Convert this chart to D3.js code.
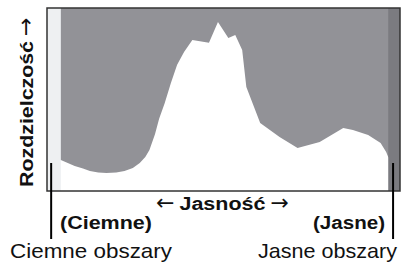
<!DOCTYPE html>
<html>
<head>
<meta charset="utf-8">
<script src="https://cdn.jsdelivr.net/npm/d3@7"></script>
<style>
  body { margin: 0; background: #fff; }
  text { font-family: "Liberation Sans", Arial, sans-serif; fill: #111; }
  .arrow { font-family: "DejaVu Sans", sans-serif; font-weight: normal; font-size: 22px; }
</style>
</head>
<body>
<svg id="chartSVG" width="404" height="263"></svg>
<script>
// brightness (0-255) and pixel count (0-100)
const brightness = [0, 10, 15, 20, 26, 31, 37, 43, 50, 56, 62, 67, 71, 74, 78, 81, 85, 89.5, 94, 99, 105, 117, 123.5, 131, 136, 141, 144, 154, 168, 181, 197, 214, 221, 232, 241, 245, 246.5, 255];
const counts     = [18, 17, 15.3, 13.7, 12.3, 10.9, 10.1, 9.8, 10.1, 10.9, 12.6, 15.3, 18.6, 22.4, 31, 39.5, 48, 59, 69, 76, 82.5, 81, 92.3, 83.6, 85.2, 77, 56.8, 37.2, 29.5, 23.5, 26.8, 34.4, 33.3, 30.6, 26.2, 21.3, 18.6, 14];

const yLabel = "Rozdzielczość";
const xLabel = "Jasność";
const darkLabel = "(Ciemne)";
const lightLabel = "(Jasne)";
const darkNote = "Ciemne obszary";
const lightNote = "Jasne obszary";

const plotLeft = 47, plotRight = 400, plotTop = 8, plotBottom = 191;

var svg = d3.select("#chartSVG");

/* ---------- Scales ---------- */
var xScale = d3.scaleLinear().domain([0, 255]).range([plotLeft, plotRight]);
var yScale = d3.scaleLinear().domain([0, 100]).range([plotBottom, plotTop]);

/* ---------- Background and histogram ---------- */
svg.append("rect")
    .attr("x", plotLeft).attr("y", plotTop)
    .attr("width", plotRight - plotLeft).attr("height", plotBottom - plotTop)
    .attr("fill", "#929297");

var data = brightness.map((b, i) => ({ b: b, c: counts[i] }));
var area = d3.area()
    .x(d => xScale(d.b))
    .y0(yScale(0))
    .y1(d => yScale(d.c));
svg.append("path").datum(data).attr("d", area).attr("fill", "#fff");

// shadow / highlight strips at both ends
svg.append("rect")
    .attr("x", xScale(0)).attr("y", plotTop)
    .attr("width", xScale(10) - xScale(0)).attr("height", plotBottom - plotTop)
    .attr("fill", "#eef0f2");
svg.append("rect")
    .attr("x", xScale(246.5)).attr("y", plotTop)
    .attr("width", xScale(255) - xScale(246.5)).attr("height", plotBottom - plotTop)
    .attr("fill", "#7b7b80");

svg.append("rect")
    .attr("x", plotLeft).attr("y", plotTop)
    .attr("width", plotRight - plotLeft).attr("height", plotBottom - plotTop)
    .attr("fill", "none").attr("stroke", "#333").attr("stroke-width", 1.5);

/* ---------- Pointer lines ---------- */
[3, 250].forEach(b => {
    svg.append("line")
        .attr("x1", xScale(b)).attr("x2", xScale(b))
        .attr("y1", 163).attr("y2", 239)
        .attr("stroke", "#000").attr("stroke-width", 2);
});

/* ---------- Labels ---------- */
var yTitle = svg.append("text")
    .attr("font-weight", "bold").attr("font-size", 18)
    .attr("transform", "translate(33,187) rotate(-90)");
yTitle.append("tspan").text(yLabel)
    .attr("textLength", 146).attr("lengthAdjust", "spacingAndGlyphs");
yTitle.append("tspan").attr("class", "arrow").attr("dx", 5).text("→");

var xTitle = svg.append("text")
    .attr("font-weight", "bold").attr("font-size", 18)
    .attr("x", 156).attr("y", 210);
xTitle.append("tspan").attr("class", "arrow").text("←");
xTitle.append("tspan").attr("dx", 5).text(xLabel)
    .attr("textLength", 86).attr("lengthAdjust", "spacingAndGlyphs");
xTitle.append("tspan").attr("class", "arrow").attr("dx", 5).text("→");

svg.append("text")
    .text(darkLabel)
    .attr("font-weight", "bold").attr("font-size", 18)
    .attr("x", 60).attr("y", 229)
    .attr("textLength", 92).attr("lengthAdjust", "spacingAndGlyphs");

svg.append("text")
    .text(lightLabel)
    .attr("font-weight", "bold").attr("font-size", 18)
    .attr("x", 313).attr("y", 229)
    .attr("textLength", 72).attr("lengthAdjust", "spacingAndGlyphs");

svg.append("text")
    .text(darkNote)
    .attr("font-size", 21)
    .attr("x", 10).attr("y", 258)
    .attr("textLength", 162).attr("lengthAdjust", "spacingAndGlyphs");

svg.append("text")
    .text(lightNote)
    .attr("font-size", 21)
    .attr("x", 258).attr("y", 258)
    .attr("textLength", 139).attr("lengthAdjust", "spacingAndGlyphs");
</script>
</body>
</html>
